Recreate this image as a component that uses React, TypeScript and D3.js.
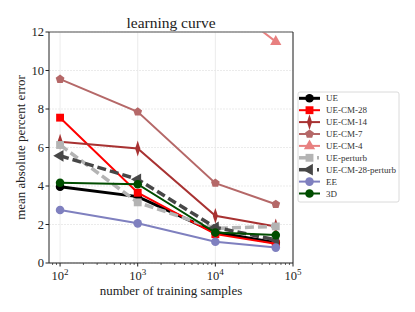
import React from 'react';
import * as d3 from 'd3';

// training sample counts on the x axis
const samples = [100, 1000, 10000, 60000];

// one row per model, same order as the legend
const seriesNames = ['UE', 'UE-CM-28', 'UE-CM-14', 'UE-CM-7', 'UE-CM-4', 'UE-perturb', 'UE-CM-28-perturb', 'EE', '3D'];
const ue = [3.96, 3.45, 1.6, 1.05];
const ueCm28 = [7.55, 3.65, 1.5, 1.0];
const ueCm14 = [6.3, 5.95, 2.45, 1.9];
const ueCm7 = [9.55, 7.85, 4.15, 3.05];
const ueCm4 = [20.5, 17.5, 13.9, 11.5];
const uePerturb = [6.13, 3.15, 1.8, 1.9];
const ueCm28Perturb = [5.57, 4.35, 1.85, 1.2];
const ee = [2.75, 2.06, 1.1, 0.8];
const threeD = [4.17, 4.09, 1.58, 1.45];

const yTicks = [0, 2, 4, 6, 8, 10, 12];
const xTicks = [2, 3, 4, 5];

const styles = [
  { color: '#000000', width: 3, marker: 'circle', dash: '' },
  { color: '#ff0000', width: 2, marker: 'square', dash: '' },
  { color: '#a83232', width: 2, marker: 'diamond', dash: '' },
  { color: '#b56868', width: 2, marker: 'pentagon', dash: '' },
  { color: '#e88080', width: 2, marker: 'triangle', dash: '' },
  { color: '#b4b4b4', width: 3.5, marker: 'square', dash: '9,4' },
  { color: '#474747', width: 3.5, marker: 'tleft', dash: '9,4' },
  { color: '#7f80bf', width: 2, marker: 'circle', dash: '' },
  { color: '#004d00', width: 2, marker: 'circle', dash: '' },
];

const allValues = [ue, ueCm28, ueCm14, ueCm7, ueCm4, uePerturb, ueCm28Perturb, ee, threeD];

const W = 415;
const H = 312;
const margin = { left: 49, right: 122, top: 32, bottom: 49 };
const font = '"Liberation Serif", "DejaVu Serif", serif';

const x = d3.scaleLog().domain([72, 100000]).range([margin.left, W - margin.right]);
const y = d3.scaleLinear().domain([0, 12]).range([H - margin.bottom, margin.top]);

function markerPath(kind: string, size: number): string {
  const sym: Record<string, d3.SymbolType> = {
    circle: d3.symbolCircle,
    square: d3.symbolSquare,
    diamond: d3.symbolDiamond,
    pentagon: d3.symbolCircle,
    triangle: d3.symbolTriangle,
    tleft: d3.symbolTriangle,
  };
  return d3.symbol(sym[kind], size)() || '';
}

function Marker({ kind, cx, cy, color }: { kind: string; cx: number; cy: number; color: string }) {
  if (kind === 'pentagon') {
    const r = 4.6;
    const pts = d3.range(5).map(i => {
      const a = -Math.PI / 2 + (i * 2 * Math.PI) / 5;
      return `${cx + r * Math.cos(a)},${cy + r * Math.sin(a)}`;
    });
    return <polygon points={pts.join(' ')} fill={color} />;
  }
  if (kind === 'diamond') {
    return <path d={markerPath('diamond', 40)} transform={`translate(${cx},${cy}) scale(0.75,1.35)`} fill={color} />;
  }
  const size = kind === 'square' ? 62 : kind === 'triangle' ? 55 : kind === 'tleft' ? 60 : 58;
  const rot = kind === 'tleft' ? -90 : 0;
  return <path d={markerPath(kind, size)} transform={`translate(${cx},${cy}) rotate(${rot})`} fill={color} />;
}

export default function App() {
  const line = d3
    .line<number>()
    .x((_, i) => x(samples[i]))
    .y(d => y(d));

  const minorTicks: number[] = [];
  [1, 2, 3, 4].forEach(e => {
    for (let k = 1; k < 10; k++) {
      const v = k * Math.pow(10, e);
      if (v >= 72 && v <= 100000 && k !== 1) minorTicks.push(v);
    }
  });

  const legendX = 298;
  const legendY = 92;
  const rowH = 11.9;

  return (
    <svg width={W} height={H} style={{ position: 'absolute', left: 0, top: 0, fontFamily: font }}>
      <rect width={W} height={H} fill="#fff" />
      <defs>
        <clipPath id="plot">
          <rect x={margin.left} y={margin.top} width={W - margin.left - margin.right} height={H - margin.top - margin.bottom} />
        </clipPath>
      </defs>

      {/* grid */}
      {xTicks.map(e => (
        <line key={'gx' + e} x1={x(Math.pow(10, e))} x2={x(Math.pow(10, e))} y1={margin.top} y2={H - margin.bottom} stroke="#e6e6e6" strokeWidth={0.8} />
      ))}
      {yTicks.map(t => (
        <line key={'gy' + t} x1={margin.left} x2={W - margin.right} y1={y(t)} y2={y(t)} stroke="#e6e6e6" strokeWidth={0.8} strokeDasharray="2,1" />
      ))}

      {/* series */}
      <g clipPath="url(#plot)">
        {allValues.map((vals, si) => {
          const st = styles[si];
          return (
            <g key={seriesNames[si]}>
              <path d={line(vals) || ''} fill="none" stroke={st.color} strokeWidth={st.width} strokeDasharray={st.dash} />
              {vals.map((v, i) => (
                <Marker key={i} kind={st.marker} cx={x(samples[i])} cy={y(v)} color={st.color} />
              ))}
            </g>
          );
        })}
      </g>

      {/* spines */}
      <line x1={margin.left} x2={W - margin.right} y1={margin.top} y2={margin.top} stroke="#888" strokeWidth={1.5} />
      <line x1={W - margin.right} x2={W - margin.right} y1={margin.top} y2={H - margin.bottom} stroke="#222" strokeWidth={1} />
      <line x1={margin.left} x2={margin.left} y1={margin.top} y2={H - margin.bottom} stroke="#222" strokeWidth={1} />
      <line x1={margin.left} x2={W - margin.right} y1={H - margin.bottom} y2={H - margin.bottom} stroke="#222" strokeWidth={1} />

      {/* y ticks */}
      {yTicks.map(t => (
        <g key={'yt' + t}>
          <line x1={margin.left - 3.5} x2={margin.left} y1={y(t)} y2={y(t)} stroke="#222" />
          <text x={margin.left - 5} y={y(t)} dy="0.35em" textAnchor="end" fontSize={12.5} fill="#222">{t}</text>
        </g>
      ))}

      {/* x ticks */}
      {xTicks.map(e => (
        <g key={'xt' + e}>
          <line x1={x(Math.pow(10, e))} x2={x(Math.pow(10, e))} y1={H - margin.bottom} y2={H - margin.bottom + 3.5} stroke="#222" />
          <text x={x(Math.pow(10, e))} y={H - margin.bottom + 17} textAnchor="middle" fontSize={12.5} fill="#222">
            10<tspan fontSize={9} dy={-5}>{e}</tspan>
          </text>
        </g>
      ))}
      {minorTicks.map(v => (
        <line key={'mt' + v} x1={x(v)} x2={x(v)} y1={H - margin.bottom} y2={H - margin.bottom + 2} stroke="#222" strokeWidth={0.7} />
      ))}

      {/* labels */}
      <text x={(margin.left + W - margin.right) / 2} y={margin.top - 4} textAnchor="middle" fontSize={15.5} fill="#222">learning curve</text>
      <text x={(margin.left + W - margin.right) / 2} y={H - 17} textAnchor="middle" fontSize={13} fill="#222">number of training samples</text>
      <text transform={`translate(20,${(margin.top + H - margin.bottom) / 2}) rotate(-90)`} textAnchor="middle" dy="0.35em" fontSize={13} fill="#222">mean absolute percent error</text>

      {/* legend */}
      <rect x={legendX} y={legendY} width={101} height={110} rx={2} fill="#fff" stroke="#d0d0d0" strokeWidth={0.8} />
      {seriesNames.map((name, i) => {
        const st = styles[i];
        const cy = legendY + 6.3 + i * rowH;
        return (
          <g key={'lg' + name}>
            {st.dash ? (
              <>
                <line x1={legendX + 1} x2={legendX + 14} y1={cy} y2={cy} stroke={st.color} strokeWidth={st.width} />
                <line x1={legendX + 19} x2={legendX + 21} y1={cy} y2={cy} stroke={st.color} strokeWidth={st.width} />
              </>
            ) : (
              <line x1={legendX + 1} x2={legendX + 22} y1={cy} y2={cy} stroke={st.color} strokeWidth={st.width} />
            )}
            <Marker kind={st.marker} cx={legendX + 11.5} cy={cy} color={st.color} />
            <text x={legendX + 28} y={cy} dy="0.35em" fontSize={9} fill="#333">{name}</text>
          </g>
        );
      })}
    </svg>
  );
}
